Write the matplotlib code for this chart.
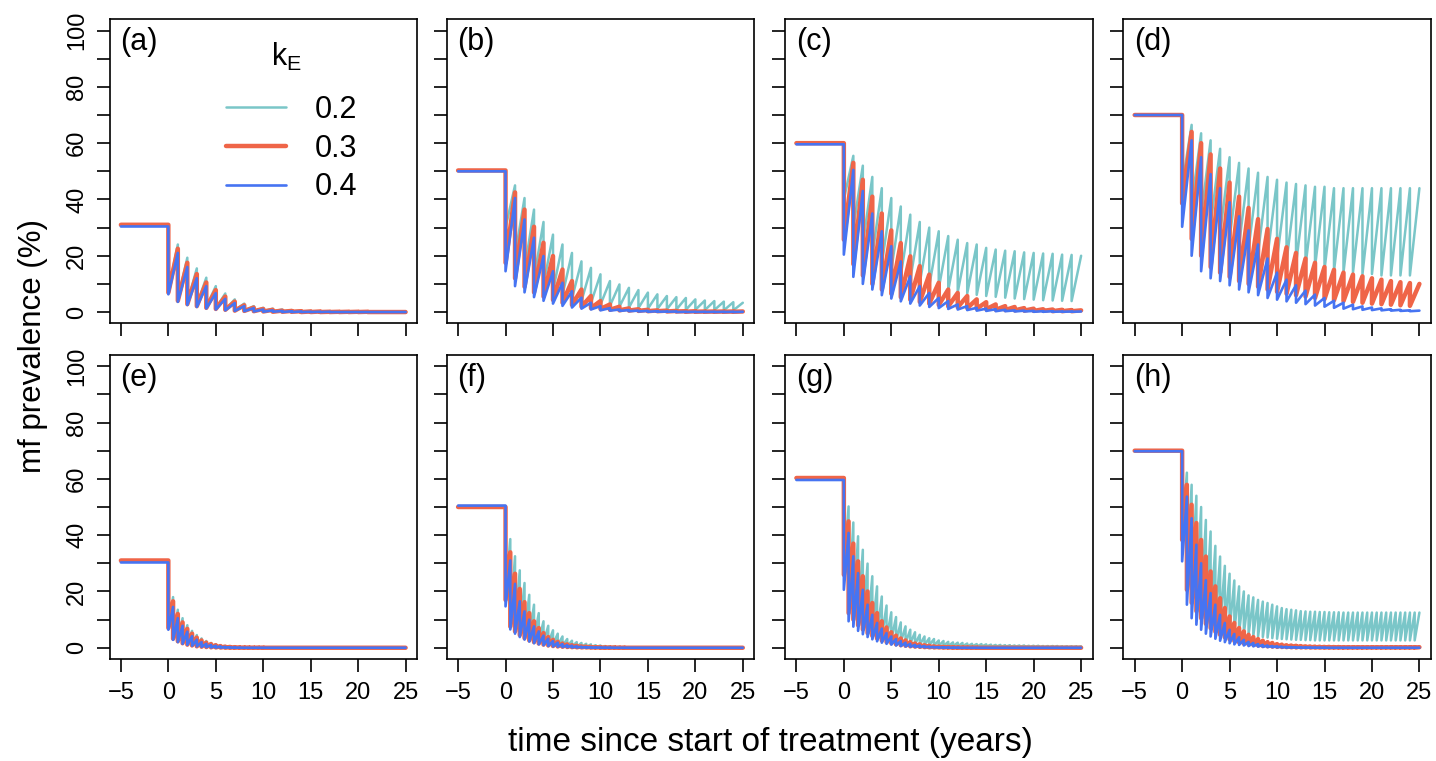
import numpy as np
import matplotlib
matplotlib.use("Agg")
import matplotlib.pyplot as plt

plt.rcParams["font.family"] = ["Liberation Sans", "DejaVu Sans"]
plt.rcParams["mathtext.default"] = "regular"
plt.rcParams["lines.solid_joinstyle"] = "round"
plt.rcParams["lines.solid_capstyle"] = "round"

kE = ["0.2", "0.3", "0.4"]
colors = ["#7ac6c8", "#ef6548", "#4674f2"]
lws = [1.8, 3.2, 1.9]

x_ticks = [-5, 0, 5, 10, 15, 20, 25]
y_ticks = [0, 10, 20, 30, 40, 50, 60, 70, 80, 90, 100]
y_labels = ["0", "", "20", "", "40", "", "60", "", "80", "", "100"]

# values: level before treatment, then for every
# treatment round the prevalence just after it (low) and just before the
# next round (top). top row = annual rounds, bottom row = six-monthly

# (a)
a_base = [31.0, 31.0, 30.4]
a_top_1 = [24.0, 19.3, 15.5, 12.2, 9.2, 6.6, 4.5, 3.0, 2.1, 1.5,
           1.2, 0.9, 0.7, 0.5, 0.4, 0.3, 0.2, 0.2, 0.1, 0.1,
           0.1, 0.1, 0.1, 0.1, 0.1]
a_low_1 = [7.5, 4.5, 3.3, 2.5, 1.8, 1.3, 0.9, 0.6, 0.4, 0.3,
           0.2, 0.2, 0.1, 0.1, 0.1, 0.1, 0.1, 0.0, 0.0, 0.0,
           0.0, 0.0, 0.0, 0.0, 0.0]
a_top_2 = [22.5, 17.5, 13.5, 10.5, 7.8, 5.5, 3.7, 2.4, 1.6, 1.1,
           0.8, 0.5, 0.4, 0.3, 0.2, 0.2, 0.1, 0.1, 0.1, 0.1,
           0.1, 0.0, 0.0, 0.0, 0.0]
a_low_2 = [6.9, 4.0, 2.8, 2.1, 1.5, 1.1, 0.8, 0.5, 0.4, 0.3,
           0.2, 0.1, 0.1, 0.1, 0.0, 0.0, 0.0, 0.0, 0.0, 0.0,
           0.0, 0.0, 0.0, 0.0, 0.0]
a_top_3 = [21.0, 16.0, 12.0, 9.2, 6.7, 4.7, 3.2, 2.1, 1.4, 0.9,
           0.6, 0.4, 0.3, 0.2, 0.1, 0.1, 0.1, 0.0, 0.0, 0.0,
           0.0, 0.0, 0.0, 0.0, 0.0]
a_low_3 = [6.3, 3.6, 2.5, 1.8, 1.3, 0.9, 0.6, 0.4, 0.3, 0.2,
           0.1, 0.1, 0.0, 0.0, 0.0, 0.0, 0.0, 0.0, 0.0, 0.0,
           0.0, 0.0, 0.0, 0.0, 0.0]

# (b)
b_base = [50.3, 50.3, 50.0]
b_top_1 = [45.0, 40.5, 36.4, 32.0, 27.5, 24.0, 21.0, 18.0, 15.7, 13.4,
           11.0, 9.8, 8.6, 7.8, 6.9, 6.3, 5.7, 5.3, 5.0, 4.5,
           4.1, 3.9, 3.7, 3.5, 3.3]
b_low_1 = [30.0, 20.0, 15.0, 12.0, 9.5, 7.5, 6.0, 4.8, 3.9, 3.2,
           2.6, 2.2, 1.9, 1.6, 1.4, 1.2, 1.1, 1.0, 0.9, 0.8,
           0.8, 0.7, 0.7, 0.6, 0.6]
b_top_2 = [42.5, 36.4, 30.3, 24.6, 19.9, 15.1, 11.0, 8.0, 5.7, 3.9,
           2.7, 1.9, 1.3, 1.0, 0.8, 0.6, 0.5, 0.4, 0.3, 0.3,
           0.2, 0.2, 0.2, 0.2, 0.2]
b_low_2 = [17.5, 12.0, 9.0, 7.0, 5.5, 4.3, 3.3, 2.5, 1.9, 1.4,
           1.1, 0.8, 0.6, 0.5, 0.4, 0.3, 0.3, 0.2, 0.2, 0.1,
           0.1, 0.1, 0.1, 0.1, 0.1]
b_top_3 = [40.5, 32.9, 26.4, 19.9, 14.5, 10.4, 7.4, 5.1, 3.3, 2.1,
           1.4, 0.9, 0.7, 0.5, 0.4, 0.3, 0.2, 0.2, 0.1, 0.1,
           0.1, 0.1, 0.1, 0.1, 0.1]
b_low_3 = [14.5, 9.2, 7.0, 5.3, 4.0, 3.0, 2.2, 1.6, 1.2, 0.9,
           0.6, 0.5, 0.4, 0.3, 0.2, 0.1, 0.1, 0.1, 0.0, 0.0,
           0.0, 0.0, 0.0, 0.0, 0.0]

# (c)
c_base = [59.8, 60.0, 59.6]
c_top_1 = [55.5, 52.0, 48.0, 44.0, 40.5, 37.5, 34.6, 32.0, 30.0, 28.7,
           27.0, 25.7, 24.5, 24.0, 22.8, 22.2, 21.8, 21.6, 21.2, 21.0,
           20.8, 20.7, 20.4, 20.3, 20.0]
c_low_1 = [40.0, 30.0, 24.0, 20.0, 17.0, 15.0, 13.0, 11.5, 10.3, 9.3,
           8.4, 7.7, 7.1, 6.6, 6.1, 5.7, 5.4, 5.1, 4.8, 4.6,
           4.4, 4.2, 4.1, 4.0, 3.9]
c_top_2 = [53.0, 47.0, 41.0, 35.0, 29.0, 24.5, 19.8, 16.3, 13.3, 10.4,
           8.0, 6.8, 5.7, 4.5, 3.5, 2.7, 2.1, 1.8, 1.4, 1.2,
           1.0, 0.9, 0.8, 0.7, 0.6]
c_low_2 = [25.7, 17.0, 13.0, 10.0, 8.0, 6.5, 5.3, 4.4, 3.6, 3.0,
           2.5, 2.0, 1.7, 1.4, 1.2, 1.0, 0.8, 0.7, 0.6, 0.5,
           0.4, 0.4, 0.3, 0.3, 0.3]
c_top_3 = [50.5, 43.0, 35.0, 28.7, 23.4, 18.0, 12.7, 9.2, 6.8, 5.0,
           3.9, 2.7, 2.1, 1.5, 1.2, 1.0, 0.8, 0.6, 0.5, 0.4,
           0.3, 0.3, 0.2, 0.2, 0.2]
c_low_3 = [20.4, 12.5, 10.0, 8.0, 6.0, 4.8, 3.8, 3.0, 2.3, 1.8,
           1.4, 1.1, 0.9, 0.7, 0.5, 0.4, 0.3, 0.3, 0.2, 0.2,
           0.1, 0.1, 0.1, 0.1, 0.1]

# (d)
d_base = [70.0, 70.0, 70.0]
d_top_1 = [66.5, 63.5, 61.0, 58.0, 55.0, 53.0, 51.0, 49.5, 48.0, 47.0,
           46.0, 45.5, 45.0, 44.5, 44.5, 44.0, 44.0, 44.0, 44.0, 44.0,
           44.0, 44.0, 44.0, 44.0, 44.0]
d_low_1 = [45.0, 38.0, 34.0, 31.0, 28.0, 26.0, 24.0, 22.5, 21.0, 20.0,
           19.0, 18.0, 17.0, 16.5, 16.0, 15.0, 14.5, 14.0, 14.0, 13.5,
           13.5, 13.0, 13.0, 13.0, 13.0]
d_top_2 = [64.0, 60.0, 56.0, 51.0, 46.0, 41.0, 37.0, 33.0, 29.5, 26.0,
           23.0, 21.0, 19.0, 17.5, 16.0, 15.0, 14.0, 13.3, 12.7, 12.0,
           11.5, 11.0, 10.6, 10.3, 10.0]
d_low_2 = [38.6, 26.0, 20.0, 16.0, 14.0, 12.5, 11.0, 10.0, 9.0, 8.0,
           7.2, 6.5, 6.0, 5.5, 5.0, 4.6, 4.2, 3.9, 3.6, 3.3,
           3.0, 2.8, 2.6, 2.4, 2.2]
d_top_3 = [61.0, 55.0, 49.0, 44.0, 39.0, 34.0, 29.0, 24.0, 19.0, 14.0,
           11.5, 9.5, 7.6, 6.2, 5.0, 4.0, 3.3, 2.6, 2.0, 1.6,
           1.3, 1.0, 0.8, 0.6, 0.5]
d_low_3 = [30.3, 20.0, 14.5, 12.0, 11.0, 9.5, 8.0, 7.0, 6.0, 5.0,
           4.4, 3.8, 3.3, 2.8, 2.3, 1.9, 1.5, 1.2, 1.0, 0.8,
           0.7, 0.6, 0.5, 0.4, 0.3]

# (e)
e_base = [31.0, 31.0, 30.3]
e_top_1 = [18.0, 13.5, 10.5, 8.0, 6.0, 4.5, 3.3, 2.4, 1.7, 1.2,
           0.8, 0.6, 0.4, 0.3, 0.2, 0.15, 0.1, 0.1, 0.1, 0.1,
           0.05, 0.05, 0.05, 0.05, 0.05, 0.0, 0.0, 0.0, 0.0, 0.0,
           0.0, 0.0, 0.0, 0.0, 0.0, 0.0, 0.0, 0.0, 0.0, 0.0,
           0.0, 0.0, 0.0, 0.0, 0.0, 0.0, 0.0, 0.0, 0.0, 0.0]
e_low_1 = [7.5, 3.5, 2.5, 1.8, 1.3, 0.9, 0.6, 0.4, 0.3, 0.2,
           0.1, 0.1, 0.05, 0.05, 0.0, 0.0, 0.0, 0.0, 0.0, 0.0,
           0.0, 0.0, 0.0, 0.0, 0.0, 0.0, 0.0, 0.0, 0.0, 0.0,
           0.0, 0.0, 0.0, 0.0, 0.0, 0.0, 0.0, 0.0, 0.0, 0.0,
           0.0, 0.0, 0.0, 0.0, 0.0, 0.0, 0.0, 0.0, 0.0, 0.0]
e_top_2 = [16.5, 12.0, 9.0, 6.7, 5.0, 3.6, 2.6, 1.8, 1.3, 0.9,
           0.6, 0.4, 0.3, 0.2, 0.15, 0.1, 0.1, 0.05, 0.05, 0.05,
           0.0, 0.0, 0.0, 0.0, 0.0, 0.0, 0.0, 0.0, 0.0, 0.0,
           0.0, 0.0, 0.0, 0.0, 0.0, 0.0, 0.0, 0.0, 0.0, 0.0,
           0.0, 0.0, 0.0, 0.0, 0.0, 0.0, 0.0, 0.0, 0.0, 0.0]
e_low_2 = [7.0, 3.2, 2.3, 1.6, 1.1, 0.8, 0.5, 0.35, 0.25, 0.15,
           0.1, 0.05, 0.0, 0.0, 0.0, 0.0, 0.0, 0.0, 0.0, 0.0,
           0.0, 0.0, 0.0, 0.0, 0.0, 0.0, 0.0, 0.0, 0.0, 0.0,
           0.0, 0.0, 0.0, 0.0, 0.0, 0.0, 0.0, 0.0, 0.0, 0.0,
           0.0, 0.0, 0.0, 0.0, 0.0, 0.0, 0.0, 0.0, 0.0, 0.0]
e_top_3 = [14.5, 10.5, 7.8, 5.7, 4.1, 2.9, 2.0, 1.4, 1.0, 0.7,
           0.5, 0.3, 0.2, 0.1, 0.05, 0.0, 0.0, 0.0, 0.0, 0.0,
           0.0, 0.0, 0.0, 0.0, 0.0, 0.0, 0.0, 0.0, 0.0, 0.0,
           0.0, 0.0, 0.0, 0.0, 0.0, 0.0, 0.0, 0.0, 0.0, 0.0,
           0.0, 0.0, 0.0, 0.0, 0.0, 0.0, 0.0, 0.0, 0.0, 0.0]
e_low_3 = [6.4, 2.8, 2.0, 1.4, 1.0, 0.7, 0.45, 0.3, 0.2, 0.1,
           0.05, 0.0, 0.0, 0.0, 0.0, 0.0, 0.0, 0.0, 0.0, 0.0,
           0.0, 0.0, 0.0, 0.0, 0.0, 0.0, 0.0, 0.0, 0.0, 0.0,
           0.0, 0.0, 0.0, 0.0, 0.0, 0.0, 0.0, 0.0, 0.0, 0.0,
           0.0, 0.0, 0.0, 0.0, 0.0, 0.0, 0.0, 0.0, 0.0, 0.0]

# (f)
f_base = [50.3, 50.0, 50.5]
f_top_1 = [38.6, 32.5, 27.5, 23.0, 18.8, 15.3, 12.3, 9.4, 7.8, 6.2,
           5.0, 4.0, 3.1, 2.5, 2.0, 1.7, 1.4, 1.2, 0.9, 0.8,
           0.6, 0.5, 0.4, 0.3, 0.25, 0.2, 0.15, 0.1, 0.1, 0.1,
           0.1, 0.05, 0.05, 0.05, 0.05, 0.0, 0.0, 0.0, 0.0, 0.0,
           0.0, 0.0, 0.0, 0.0, 0.0, 0.0, 0.0, 0.0, 0.0, 0.0]
f_low_1 = [18.0, 9.0, 7.0, 5.5, 4.5, 3.6, 2.9, 2.3, 1.8, 1.4,
           1.1, 0.9, 0.7, 0.55, 0.45, 0.35, 0.3, 0.25, 0.2, 0.15,
           0.1, 0.1, 0.1, 0.05, 0.05, 0.05, 0.0, 0.0, 0.0, 0.0,
           0.0, 0.0, 0.0, 0.0, 0.0, 0.0, 0.0, 0.0, 0.0, 0.0,
           0.0, 0.0, 0.0, 0.0, 0.0, 0.0, 0.0, 0.0, 0.0, 0.0]
f_top_2 = [33.9, 26.3, 20.9, 16.2, 12.3, 9.4, 7.0, 5.2, 3.8, 2.8,
           2.1, 1.5, 1.2, 0.9, 0.7, 0.5, 0.4, 0.3, 0.2, 0.2,
           0.1, 0.1, 0.1, 0.05, 0.05, 0.0, 0.0, 0.0, 0.0, 0.0,
           0.0, 0.0, 0.0, 0.0, 0.0, 0.0, 0.0, 0.0, 0.0, 0.0,
           0.0, 0.0, 0.0, 0.0, 0.0, 0.0, 0.0, 0.0, 0.0, 0.0]
f_low_2 = [17.0, 7.5, 5.8, 4.5, 3.4, 2.6, 2.0, 1.5, 1.1, 0.8,
           0.6, 0.45, 0.35, 0.25, 0.2, 0.15, 0.1, 0.1, 0.05, 0.05,
           0.0, 0.0, 0.0, 0.0, 0.0, 0.0, 0.0, 0.0, 0.0, 0.0,
           0.0, 0.0, 0.0, 0.0, 0.0, 0.0, 0.0, 0.0, 0.0, 0.0,
           0.0, 0.0, 0.0, 0.0, 0.0, 0.0, 0.0, 0.0, 0.0, 0.0]
f_top_3 = [31.0, 22.7, 16.5, 12.9, 10.0, 7.6, 5.8, 4.3, 3.2, 2.4,
           1.8, 1.3, 0.9, 0.7, 0.5, 0.35, 0.25, 0.2, 0.1, 0.1,
           0.05, 0.05, 0.0, 0.0, 0.0, 0.0, 0.0, 0.0, 0.0, 0.0,
           0.0, 0.0, 0.0, 0.0, 0.0, 0.0, 0.0, 0.0, 0.0, 0.0,
           0.0, 0.0, 0.0, 0.0, 0.0, 0.0, 0.0, 0.0, 0.0, 0.0]
f_low_3 = [14.7, 6.5, 5.0, 3.8, 2.9, 2.2, 1.6, 1.2, 0.9, 0.6,
           0.45, 0.35, 0.25, 0.2, 0.1, 0.1, 0.05, 0.0, 0.0, 0.0,
           0.0, 0.0, 0.0, 0.0, 0.0, 0.0, 0.0, 0.0, 0.0, 0.0,
           0.0, 0.0, 0.0, 0.0, 0.0, 0.0, 0.0, 0.0, 0.0, 0.0,
           0.0, 0.0, 0.0, 0.0, 0.0, 0.0, 0.0, 0.0, 0.0, 0.0]

# (g)
g_base = [60.0, 60.3, 59.6]
g_top_1 = [50.2, 44.5, 39.6, 34.8, 29.9, 25.4, 21.8, 18.2, 15.0, 12.6,
           10.9, 9.0, 7.6, 6.4, 5.5, 4.6, 4.0, 3.4, 3.1, 2.6,
           2.4, 2.1, 1.9, 1.8, 1.7, 1.5, 1.4, 1.3, 1.3, 1.2,
           1.1, 1.0, 1.0, 0.9, 0.9, 0.8, 0.8, 0.8, 0.7, 0.7,
           0.7, 0.6, 0.6, 0.6, 0.6, 0.5, 0.5, 0.5, 0.5, 0.5]
g_low_1 = [27.0, 14.0, 11.5, 9.5, 8.0, 6.7, 5.6, 4.7, 3.9, 3.3,
           2.8, 2.4, 2.0, 1.7, 1.5, 1.3, 1.1, 1.0, 0.9, 0.8,
           0.7, 0.65, 0.6, 0.55, 0.5, 0.5, 0.45, 0.45, 0.4, 0.4,
           0.4, 0.35, 0.35, 0.3, 0.3, 0.3, 0.3, 0.25, 0.25, 0.25,
           0.25, 0.2, 0.2, 0.2, 0.2, 0.2, 0.2, 0.2, 0.2, 0.2]
g_top_2 = [44.9, 37.0, 30.7, 25.4, 20.0, 15.9, 12.3, 9.4, 7.2, 5.5,
           4.3, 3.3, 2.6, 2.0, 1.5, 1.2, 0.9, 0.7, 0.5, 0.4,
           0.3, 0.25, 0.2, 0.15, 0.1, 0.1, 0.05, 0.05, 0.0, 0.0,
           0.0, 0.0, 0.0, 0.0, 0.0, 0.0, 0.0, 0.0, 0.0, 0.0,
           0.0, 0.0, 0.0, 0.0, 0.0, 0.0, 0.0, 0.0, 0.0, 0.0]
g_low_2 = [25.9, 12.3, 10.0, 8.0, 6.5, 5.2, 4.2, 3.3, 2.6, 2.0,
           1.6, 1.2, 0.9, 0.7, 0.5, 0.4, 0.3, 0.2, 0.15, 0.1,
           0.1, 0.05, 0.05, 0.0, 0.0, 0.0, 0.0, 0.0, 0.0, 0.0,
           0.0, 0.0, 0.0, 0.0, 0.0, 0.0, 0.0, 0.0, 0.0, 0.0,
           0.0, 0.0, 0.0, 0.0, 0.0, 0.0, 0.0, 0.0, 0.0, 0.0]
g_top_3 = [40.8, 32.5, 26.5, 20.6, 15.3, 11.7, 8.8, 6.8, 5.2, 4.0,
           3.1, 2.4, 1.8, 1.4, 1.0, 0.8, 0.6, 0.4, 0.3, 0.2,
           0.15, 0.1, 0.05, 0.05, 0.0, 0.0, 0.0, 0.0, 0.0, 0.0,
           0.0, 0.0, 0.0, 0.0, 0.0, 0.0, 0.0, 0.0, 0.0, 0.0,
           0.0, 0.0, 0.0, 0.0, 0.0, 0.0, 0.0, 0.0, 0.0, 0.0]
g_low_3 = [20.6, 9.4, 7.5, 6.0, 4.8, 3.8, 3.0, 2.3, 1.8, 1.4,
           1.1, 0.8, 0.6, 0.45, 0.35, 0.25, 0.2, 0.15, 0.1, 0.1,
           0.05, 0.0, 0.0, 0.0, 0.0, 0.0, 0.0, 0.0, 0.0, 0.0,
           0.0, 0.0, 0.0, 0.0, 0.0, 0.0, 0.0, 0.0, 0.0, 0.0,
           0.0, 0.0, 0.0, 0.0, 0.0, 0.0, 0.0, 0.0, 0.0, 0.0]

# (h)
h_base = [70.0, 70.0, 69.8]
h_top_1 = [62.2, 57.9, 54.0, 50.0, 45.4, 41.3, 36.2, 32.4, 29.1, 26.3,
           23.9, 21.8, 20.0, 18.6, 17.9, 17.0, 16.4, 15.9, 15.3, 14.7,
           14.1, 13.7, 13.5, 13.3, 13.0, 12.9, 12.8, 12.8, 12.7, 12.7,
           12.6, 12.6, 12.6, 12.5, 12.5, 12.5, 12.5, 12.5, 12.5, 12.5,
           12.5, 12.5, 12.5, 12.5, 12.5, 12.5, 12.5, 12.5, 12.5, 12.5]
h_low_1 = [40.0, 26.0, 21.0, 17.0, 14.0, 12.0, 10.5, 9.0, 8.0, 7.2,
           6.5, 5.9, 5.4, 5.0, 4.6, 4.3, 4.0, 3.8, 3.6, 3.4,
           3.2, 3.1, 3.0, 2.9, 2.8, 2.8, 2.7, 2.7, 2.6, 2.6,
           2.6, 2.6, 2.6, 2.6, 2.6, 2.6, 2.6, 2.6, 2.6, 2.6,
           2.6, 2.6, 2.6, 2.6, 2.6, 2.6, 2.6, 2.6, 2.6, 2.6]
h_top_2 = [57.9, 50.8, 44.3, 38.3, 32.4, 27.1, 21.8, 17.6, 14.1, 11.1,
           8.8, 7.0, 5.8, 4.6, 3.8, 3.1, 2.5, 2.0, 1.7, 1.3,
           1.1, 0.9, 0.8, 0.7, 0.6, 0.5, 0.45, 0.4, 0.35, 0.3,
           0.3, 0.25, 0.25, 0.2, 0.2, 0.2, 0.2, 0.2, 0.2, 0.2,
           0.2, 0.2, 0.2, 0.2, 0.2, 0.2, 0.2, 0.2, 0.2, 0.2]
h_low_2 = [38.3, 20.6, 16.0, 13.0, 10.5, 8.5, 7.0, 5.7, 4.6, 3.7,
           3.0, 2.4, 1.9, 1.5, 1.2, 1.0, 0.8, 0.6, 0.5, 0.4,
           0.3, 0.25, 0.2, 0.15, 0.1, 0.1, 0.1, 0.05, 0.05, 0.05,
           0.05, 0.05, 0.05, 0.05, 0.05, 0.05, 0.05, 0.05, 0.05, 0.05,
           0.05, 0.05, 0.05, 0.05, 0.05, 0.05, 0.05, 0.05, 0.05, 0.05]
h_top_3 = [53.7, 46.0, 36.6, 30.0, 24.0, 19.4, 15.3, 11.7, 8.8, 6.4,
           4.9, 3.7, 2.8, 2.1, 1.7, 1.3, 1.0, 0.8, 0.6, 0.5,
           0.4, 0.3, 0.25, 0.2, 0.15, 0.1, 0.1, 0.05, 0.05, 0.05,
           0.0, 0.0, 0.0, 0.0, 0.0, 0.0, 0.0, 0.0, 0.0, 0.0,
           0.0, 0.0, 0.0, 0.0, 0.0, 0.0, 0.0, 0.0, 0.0, 0.0]
h_low_3 = [30.7, 15.3, 10.5, 8.2, 6.4, 5.0, 4.0, 3.2, 2.5, 2.0,
           1.6, 1.2, 1.0, 0.8, 0.6, 0.5, 0.4, 0.3, 0.25, 0.2,
           0.15, 0.1, 0.05, 0.05, 0.0, 0.0, 0.0, 0.0, 0.0, 0.0,
           0.0, 0.0, 0.0, 0.0, 0.0, 0.0, 0.0, 0.0, 0.0, 0.0,
           0.0, 0.0, 0.0, 0.0, 0.0, 0.0, 0.0, 0.0, 0.0, 0.0]

panels = [
    ("(a)", 1.0, a_base, [a_low_1, a_low_2, a_low_3], [a_top_1, a_top_2, a_top_3]),
    ("(b)", 1.0, b_base, [b_low_1, b_low_2, b_low_3], [b_top_1, b_top_2, b_top_3]),
    ("(c)", 1.0, c_base, [c_low_1, c_low_2, c_low_3], [c_top_1, c_top_2, c_top_3]),
    ("(d)", 1.0, d_base, [d_low_1, d_low_2, d_low_3], [d_top_1, d_top_2, d_top_3]),
    ("(e)", 0.5, e_base, [e_low_1, e_low_2, e_low_3], [e_top_1, e_top_2, e_top_3]),
    ("(f)", 0.5, f_base, [f_low_1, f_low_2, f_low_3], [f_top_1, f_top_2, f_top_3]),
    ("(g)", 0.5, g_base, [g_low_1, g_low_2, g_low_3], [g_top_1, g_top_2, g_top_3]),
    ("(h)", 0.5, h_base, [h_low_1, h_low_2, h_low_3], [h_top_1, h_top_2, h_top_3]),
]


def tooth_path(base, low, top, step):
    # flat before treatment, drop at each round, regrow until the next one
    t = [-5.0, 0.0]
    y = [base, base]
    for i in range(len(low)):
        t.extend([i * step, (i + 1) * step])
        y.extend([low[i], top[i]])
    return np.array(t), np.array(y)


W, H = 1436, 761
fig = plt.figure(figsize=(W / 100, H / 100), dpi=100)

lefts = [109.5, 446.7, 785.0, 1123.3]
tops = [19.3, 355.0]
pw, ph = 307.5, 304.0

for k, (lab, step, base, lows, highs) in enumerate(panels):
    row, col = divmod(k, 4)
    ax = fig.add_axes([lefts[col] / W, 1 - (tops[row] + ph) / H, pw / W, ph / H])
    for s in range(3):
        assert len(lows[s]) == len(highs[s]) == int(round(25 / step))
        t, y = tooth_path(base[s], lows[s], highs[s], step)
        ax.plot(t, y, color=colors[s], lw=lws[s], label=kE[s])

    ax.set_xlim(-6.2, 26.2)
    ax.set_ylim(-4, 104)
    ax.set_xticks(x_ticks)
    ax.set_yticks(y_ticks)
    ax.set_yticklabels(y_labels)
    for sp in ax.spines.values():
        sp.set_linewidth(1.2)
    ax.tick_params(direction="out", length=9.4, width=1.2, labelsize=17)
    ax.tick_params(axis="x", pad=7)
    ax.tick_params(axis="y", labelrotation=90, pad=6)
    for tl in ax.get_yticklabels():
        tl.set_va("center")
    if col > 0:
        ax.tick_params(labelleft=False)
    if row == 0:
        ax.tick_params(labelbottom=False)

    ax.text(0.035, 0.975, lab, transform=ax.transAxes, fontsize=22,
            ha="left", va="top")

    if k == 0:
        ax.text(0.577, 0.876, "k$_E$", transform=ax.transAxes, fontsize=22,
                ha="center", va="center")
        ax.legend(loc="upper left", bbox_to_anchor=(0.379, 0.752), frameon=False,
                  fontsize=22, handlelength=1.95, handletextpad=0.95,
                  labelspacing=0.29, borderpad=0.0, borderaxespad=0.0)

fig.text(770 / W, 1 - 743 / H, "time since start of treatment (years)",
         fontsize=24, ha="center", va="center")
fig.text(33 / W, 1 - 346 / H, "mf prevalence (%)", fontsize=22.5,
         rotation=90, ha="center", va="center")

fig.savefig("out.png", dpi=100)
